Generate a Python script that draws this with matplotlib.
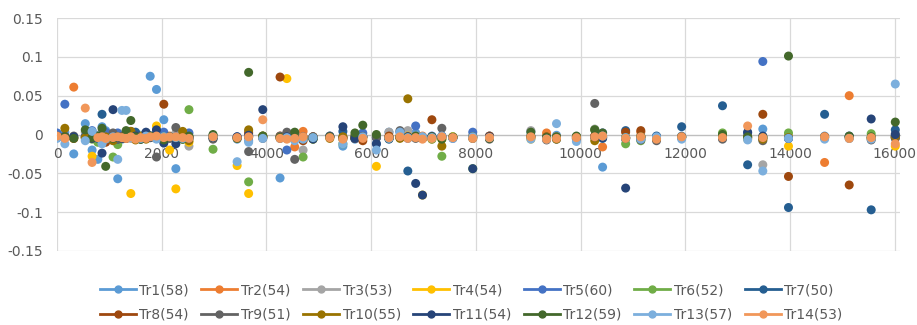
import numpy as np
import matplotlib
matplotlib.use('Agg')
import matplotlib.pyplot as plt
from matplotlib.lines import Line2D

plt.rcParams['font.family'] = ['DejaVu Sans']

_ = np.nan

# 测点位置 (横轴)
x_pos = [0, 150, 320, 540, 670,
         780, 860, 930, 1070, 1160,
         1240, 1320, 1410, 1500, 1600,
         1700, 1780, 1900, 2040, 2150,
         2270, 2400, 2520, 2980, 3440,
         3660, 3930, 4260, 4390, 4540,
         4700, 4890, 5210, 5460, 5690,
         5840, 6100, 6340, 6550, 6700,
         6850, 6980, 7160, 7350, 7560,
         7940, 8260, 9050, 9350, 9540,
         9920, 10270, 10420, 10860, 11150,
         11450, 11930, 12710, 13190, 13480,
         13970, 14660, 15130, 15550, 16010]

# 各轨迹数值, 单位 1e-3
tr1 = [-2, 3, -25, 14, -20,  -32, 10, 5, -4, -57,  -6, -3, _, -5, -1,
       -4, 75, 58, 19, -3,  -44, -2, -5, -4, -6,  -8, -3, -56, -5, -2,
       -4, _, -3, -15, -6,  -2, -12, 3, -4, -3,  2, -5, -4, -2, _,
       -3, -2, 4, -3, -1,  -5, -3, -42, -6, -3,  -4, -2, -3, -5, 7,
       -4, -2, -3, -4, -2]
tr2 = [-3, _, 61, -2, _,  -5, _, -3, -4, _,  -2, -4, _, -3, -5,
       -2, _, -4, -3, -2,  _, -4, -3, -2, -5,  -3, -4, -2, _, -16,
       4, -3, _, -4, -2,  -3, _, -5, -2, -3,  -4, -2, -6, _, -3,
       -2, -4, _, 2, -3,  -3, -2, -16, -4, 3,  -3, _, -2, -4, -6,
       -2, -36, 50, _, -3]
tr3 = [-4, -2, _, 3, _,  -2, 4, _, -3, -6,  _, -2, -5, _, -3,
       1, -4, _, -2, -5,  2, -6, -15, _, -3,  4, -2, _, -5, -3,
       -20, _, -3, -2, _,  -4, -2, 3, _, 5,  -2, -3, _, -4, -3,
       _, -2, 5, -4, _,  -3, 7, -4, _, -6,  -5, -3, _, -2, -39,
       -4, _, -3, -5, 1]
tr4 = [_, -3, -5, _, -28,  -6, _, -4, -2, _,  -3, _, -76, -5, -2,
       _, -4, 11, -3, -20,  -70, -5, -10, _, -40,  -76, -3, _, 72, -4,
       _, -6, -3, _, -2,  -5, -41, _, -3, -2,  _, -78, -4, -6, -3,
       -5, _, -6, -4, -3,  -5, -3, _, -4, -2,  _, -3, -4, -6, -3,
       -15, -3, _, -5, -15]
tr5 = [2, 39, -4, -3, 5,  -2, -5, 3, -4, 2,  -3, -5, -2, 2, -4,
       -3, -2, 5, 3, -4,  -3, -2, 2, -5, -3,  -2, -4, -3, -20, 2,
       -5, -3, -2, -4, -3,  2, -4, -3, 3, -5,  11, -4, -2, -3, -5,
       3, -4, -2, -5, -3,  -4, -3, 2, -5, -2,  -3, -4, -2, 2, 94,
       -5, -3, -2, -4, -5]
tr6 = [-3, _, -4, _, -6,  -10, _, -5, -29, -13,  _, -4, -3, _, -6,
       -2, _, -5, -3, _,  -4, -6, 32, -19, _,  -61, -2, _, -4, -5,
       -29, -6, _, -12, -4,  _, -3, -5, -2, _,  -4, _, -6, -28, -3,
       -44, -5, _, -3, -4,  _, 6, -4, -12, -8,  -5, -3, 2, _, -4,
       2, _, -3, 1, -4]
tr7 = [-4, -2, _, -3, 2,  -5, 26, _, -2, -6,  -4, _, -3, 3, _,
       -5, -2, _, -4, -3,  -6, _, -4, -2, _,  -3, _, -5, -4, _,
       -3, -5, _, 4, -2,  _, -4, -6, -3, -47,  -4, _, -4, -2, _,
       -5, -3, _, -4, -6,  -3, _, -5, 5, _,  -2, 10, 37, -39, -4,
       -94, 26, _, -97, 6]
tr8 = [_, -3, -5, _, -2,  _, -4, -10, -6, _,  -3, -5, _, -2, -4,
       _, -3, -2, 39, -4,  -5, -3, _, -2, -4,  2, -3, 74, _, -6,
       -8, -3, _, -4, -5,  -8, _, -2, -4, -3,  _, -5, 19, -3, -4,
       _, -2, -4, -3, _,  -5, -2, -3, 3, 5,  -6, _, -4, -3, 26,
       -54, -3, -65, _, -4]
tr9 = [-3, _, -2, -5, _,  -4, -3, _, 2, -6,  -5, -3, 4, _, -5,
       -3, -2, -29, _, -5,  9, -4, -3, -6, _,  -22, -5, -2, 3, -32,
       -4, -3, -2, _, -5,  -3, -4, _, 5, -3,  -5, _, -3, 8, -4,
       -3, -6, -2, -7, _,  -6, 40, -3, -5, -7,  -8, -3, -6, _, -8,
       _, -4, -5, -7, -3]
tr10 = [-3, 8, _, -4, -5,  _, -6, -3, -8, _,  -5, _, 4, -7, -3,
        -6, _, -2, -4, _,  -5, 4, -8, -4, _,  6, -2, -4, _, -3,
        -4, _, -5, -3, -4,  -3, _, -4, -5, 46,  -3, -5, _, -15, -4,
        _, -4, -3, -5, -6,  -3, -8, _, -4, -3,  -5, _, -3, -4, -6,
        -4, _, -3, -5, -2]
tr11 = [-2, -4, -3, _, -5,  -3, -24, _, 32, -4,  -5, -3, _, -2, -6,
        3, -4, 6, -11, -3,  -12, _, -5, -4, -3,  -1, 32, _, -3, -4,
        _, -6, -3, 10, -5,  -3, -12, -5, _, -3,  -63, -78, -3, _, -4,
        -44, -3, _, -5, -4,  _, -3, -4, -69, -5,  _, -3, -4, 3, -2,
        -5, _, -3, 20, 0]
tr12 = [_, -3, -5, 6, -4,  -2, 8, -41, -5, -3,  -4, 5, 18, -3, -6,
        -4, -2, -5, -7, -3,  -4, -6, -2, 0, -5,  80, -2, -4, _, 3,
        -5, -4, -3, -6, 2,  12, 0, -5, -3, -4,  -2, -5, -3, -6, -4,
        -3, -5, 3, -4, -3,  -2, 6, 2, -4, -3,  -5, -4, 0, -3, -4,
        101, -4, -2, -3, 16]
tr13 = [-5, -12, _, -8, 4,  _, -12, -6, -3, -32,  31, 31, -4, _, -5,
        -2, _, -6, -3, _,  -4, -5, _, -3, -35,  -10, -5, _, -4, -8,
        -6, -4, _, -12, _,  -3, -20, -5, 3, -4,  _, -3, -4, -2, -5,
        -3, -4, -6, -6, 14,  -9, _, -2, -4, -6,  -3, -6, _, -7, -47,
        -5, -6, -5, -6, 65]
tr14 = [-2, -5, _, 34, -36,  -4, -3, -5, -4, -3,  -4, -5, -3, -6, -4,
        -5, -3, -2, -4, -3,  -3, -4, -5, -3, -4,  -3, 19, -5, -6, -5,
        -3, _, -4, -6, _,  -5, _, -4, -3, -5,  -4, -6, -5, -3, -4,
        -5, -4, -3, -6, -5,  -4, -3, -2, -5, -3,  -6, -3, -4, 11, -4,
        _, -3, -5, -4, -12]

series = [tr1, tr2, tr3, tr4, tr5, tr6, tr7, tr8, tr9, tr10, tr11, tr12, tr13, tr14]
labels = ['Tr1(58)', 'Tr2(54)', 'Tr3(53)', 'Tr4(54)', 'Tr5(60)', 'Tr6(52)', 'Tr7(50)',
          'Tr8(54)', 'Tr9(51)', 'Tr10(55)', 'Tr11(54)', 'Tr12(59)', 'Tr13(57)', 'Tr14(53)']
colors = ['#5B9BD5', '#ED7D31', '#A5A5A5', '#FFC000', '#4472C4', '#70AD47', '#255E91',
          '#9E480E', '#636363', '#997300', '#264478', '#43682B', '#7CAFDD', '#F1975A']

x_ticks = [0, 2000, 4000, 6000, 8000, 10000, 12000, 14000, 16000]
y_ticks = [-0.15, -0.1, -0.05, 0, 0.05, 0.1, 0.15]
y_ticklabels = ['-0.15', '-0.1', '-0.05', '0', '0.05', '0.1', '0.15']

fig = plt.figure(figsize=(9.17, 3.25), dpi=100)
ax = fig.add_axes([57/917, 1-251/325, (900-57)/917, (251-18)/325])

xs = np.array(x_pos, dtype=float)
for ys, c in zip(series, colors):
    y = np.array(ys, dtype=float) / 1000.0
    ax.scatter(xs, y, s=42, color=c, edgecolors='none', zorder=3)

ax.set_xlim(0, 16100)
ax.set_ylim(-0.15, 0.15)
ax.set_xticks(x_ticks)
ax.set_xticklabels([str(v) for v in x_ticks])
ax.set_yticks(y_ticks)
ax.set_yticklabels(y_ticklabels)
ax.grid(True, color='#D9D9D9', linewidth=0.9, zorder=0)
ax.set_axisbelow(True)

for s in ['top', 'right', 'left']:
    ax.spines[s].set_visible(False)
ax.spines['bottom'].set_position(('data', 0))
ax.spines['bottom'].set_color('#BFBFBF')
ax.spines['bottom'].set_linewidth(0.9)
ax.spines['bottom'].set_zorder(1)
ax.tick_params(axis='both', length=0, labelsize=10, colors='#595959')
ax.tick_params(axis='x', pad=9)
ax.tick_params(axis='y', pad=10)

# 图例 (按行排列)
handles = [Line2D([0], [0], color=c, lw=2, marker='o', ms=5) for c in colors]
order = []
for i in range(7):
    order += [i, i+7]
leg = fig.legend([handles[i] for i in order], [labels[i] for i in order],
                 ncol=7, loc='center', bbox_to_anchor=(471/917, (325-302.5)/325),
                 frameon=False, fontsize=10, handlelength=2.6, handletextpad=0.25,
                 columnspacing=0.9, labelspacing=0.75, labelcolor='#595959')

fig.savefig('out.png', dpi=100)
